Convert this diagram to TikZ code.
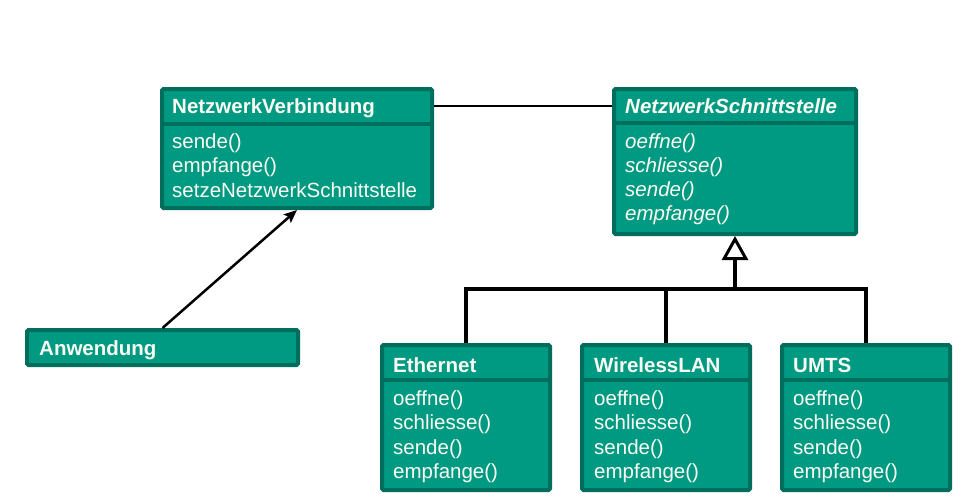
\documentclass[tikz,border=0pt]{standalone}
\usepackage{fontspec}
\setmainfont{Liberation Sans}
\usetikzlibrary{arrows.meta}
\definecolor{clsfill}{HTML}{009A82}
\definecolor{clsdraw}{HTML}{006E5C}
\definecolor{clstext}{HTML}{FAFAF2}
\tikzset{
  cls/.style={draw=clsdraw, fill=clsfill, line width=4pt, rounded corners=1.5pt, inner sep=0pt},
  sepline/.style={draw=clsdraw, line width=4pt},
  ttl/.style={anchor=base west, inner sep=0pt, text=clstext, font=\fontsize{20.5}{24}\selectfont\bfseries},
  ttli/.style={ttl, font=\fontsize{20.5}{24}\selectfont\bfseries\itshape},
  meth/.style={anchor=base west, inner sep=0pt, text=clstext, font=\fontsize{20.5}{24}\selectfont},
  methi/.style={meth, font=\fontsize{20.5}{24}\selectfont\itshape},
  assoc/.style={line width=2pt, black},
  navi/.style={line width=2.5pt, black, -{Stealth[length=13pt,width=11pt,inset=2.5pt]}},
  inh/.style={line width=4pt, black},
  inharrow/.style={line width=4pt, black, -{Triangle[open, length=24pt, width=26pt, line width=3pt, fill=white]}}
}
\begin{document}
\begin{tikzpicture}[x=1pt,y=-1pt]
\useasboundingbox[fill=white] (0,0) rectangle (962,498);

% NetzwerkVerbindung
\node[cls, minimum width=270pt, minimum height=119pt] (nv) at (297,148.5) {};
\draw[sepline] (nv.west |- 0,124) -- (nv.east |- 0,124);
\node[ttl] (nvt) at (172,113) {NetzwerkVerbindung};
\node[meth] (nv1) at (172,148) {sende()};
\node[meth] (nv2) at (172,172) {empfange()};
\node[meth] (nv3) at (172,197) {setzeNetzwerkSchnittstelle};

% NetzwerkSchnittstelle
\node[cls, minimum width=242pt, minimum height=145pt] (ns) at (735,161.5) {};
\draw[sepline] (ns.west |- 0,123) -- (ns.east |- 0,123);
\node[ttli] (nst) at (625,113) {NetzwerkSchnittstelle};
\node[methi] (ns1) at (625,148) {oeffne()};
\node[methi] (ns2) at (625,172) {schliesse()};
\node[methi] (ns3) at (625,196) {sende()};
\node[methi] (ns4) at (625,220) {empfange()};

% Anwendung
\node[cls, minimum width=271pt, minimum height=35pt] (an) at (162.5,347.5) {};
\node[ttl] (ant) at (39,355) {Anwendung};

% Ethernet
\node[cls, minimum width=168pt, minimum height=145pt] (eth) at (466,417.5) {};
\draw[sepline] (eth.west |- 0,380) -- (eth.east |- 0,380);
\node[ttl] (etht) at (393,372) {Ethernet};
\node[meth] (eth1) at (393,405) {oeffne()};
\node[meth] (eth2) at (393,429) {schliesse()};
\node[meth] (eth3) at (393,454) {sende()};
\node[meth] (eth4) at (393,478) {empfange()};

% WirelessLAN
\node[cls, minimum width=168pt, minimum height=145pt] (wl) at (666,417.5) {};
\draw[sepline] (wl.west |- 0,380) -- (wl.east |- 0,380);
\node[ttl] (wlt) at (594,372) {WirelessLAN};
\node[meth] (wl1) at (594,405) {oeffne()};
\node[meth] (wl2) at (594,429) {schliesse()};
\node[meth] (wl3) at (594,454) {sende()};
\node[meth] (wl4) at (594,478) {empfange()};

% UMTS
\node[cls, minimum width=168pt, minimum height=145pt] (um) at (866,417.5) {};
\draw[sepline] (um.west |- 0,380) -- (um.east |- 0,380);
\node[ttl] (umt) at (793,372) {UMTS};
\node[meth] (um1) at (793,405) {oeffne()};
\node[meth] (um2) at (793,429) {schliesse()};
\node[meth] (um3) at (793,454) {sende()};
\node[meth] (um4) at (793,478) {empfange()};

% association
\draw[assoc] (nv.east |- 0,106) -- (ns.west |- 0,106);
% navigable association
\draw[navi] (an.north) -- (nv.south);
% generalization
\coordinate (j) at (735,289);
\draw[inh] (eth.north) -- (eth.north |- j) -- (um.north |- j) -- (um.north);
\draw[inh] (wl.north) -- (wl.north |- j);
\draw[inharrow] (j) -- (ns.south);
\end{tikzpicture}
\end{document}
